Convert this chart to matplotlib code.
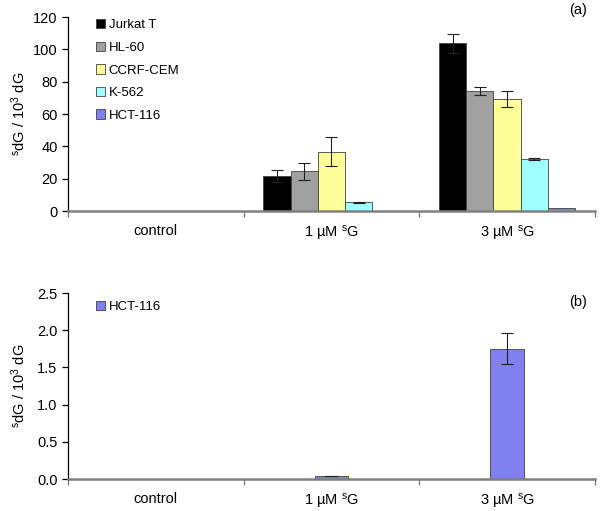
import matplotlib
matplotlib.use('Agg')
import matplotlib.pyplot as plt
import numpy as np
from matplotlib.patches import Patch
from matplotlib.ticker import FormatStrFormatter

plt.rcParams['font.family'] = ['Liberation Sans', 'DejaVu Sans']
plt.rcParams['mathtext.fontset'] = 'custom'
plt.rcParams['mathtext.rm'] = 'Liberation Sans'
plt.rcParams['mathtext.it'] = 'Liberation Sans'

categories = ["control", "1 \u00b5M $^{\\mathrm{s}}$G", "3 \u00b5M $^{\\mathrm{s}}$G"]
cell_lines = ["Jurkat T", "HL-60", "CCRF-CEM", "K-562", "HCT-116"]
colors = ["#000000", "#a0a0a0", "#ffff99", "#a0ffff", "#8080f0"]

# panel (a): values per cell line for control, 1 uM, 3 uM
values_a = [
    [0, 21.7, 103.7],
    [0, 24.6, 74.0],
    [0, 36.6, 69.2],
    [0, 5.4, 32.2],
    [0, 0.04, 1.75],
]
errors_a = [
    [0, 3.7, 5.8],
    [0, 5.4, 2.5],
    [0, 9.0, 4.8],
    [0, 0.4, 0.6],
    [0, 0.0, 0.0],
]

# panel (b): HCT-116 only
values_b = [0, 0.04, 1.75]
errors_b = [0, 0.005, 0.21]

ylabel = "$^{\\mathrm{s}}$dG / 10$^{\\mathrm{3}}$ dG"

fig = plt.figure(figsize=(6, 5.11), dpi=100)
ax1 = fig.add_axes([0.1133, 0.587, 0.878, 0.3796])
ax2 = fig.add_axes([0.1133, 0.0626, 0.878, 0.364])

x = np.arange(len(categories))
n = len(cell_lines)
width = 0.155


def style_axes(ax):
    ax.set_xlim(-0.5, 2.5)
    ax.spines['top'].set_visible(False)
    ax.spines['right'].set_visible(False)
    ax.spines['left'].set_color('black')
    ax.spines['left'].set_linewidth(0.9)
    ax.spines['bottom'].set_color('#808080')
    ax.spines['bottom'].set_linewidth(1.8)
    ax.set_xticks(x)
    ax.set_xticklabels(categories, fontsize=10.5)
    ax.tick_params(axis='x', which='major', length=0, pad=9)
    ax.set_xticks([-0.5, 0.5, 1.5, 2.5], minor=True)
    ax.tick_params(axis='x', which='minor', length=4, color='#808080', width=1)
    ax.tick_params(axis='y', length=4, width=0.9, labelsize=10.5, direction='out')
    ax.set_ylabel(ylabel, fontsize=10.5)


for i in range(n):
    offs = (i - (n - 1) / 2) * width
    ax1.bar(x + offs, values_a[i], width, color=colors[i], edgecolor='#404040',
            linewidth=0.6, label=cell_lines[i], zorder=2)
    errs = np.array(errors_a[i])
    mask = errs > 0
    ax1.errorbar((x + offs)[mask], np.array(values_a[i])[mask], yerr=errs[mask],
                 fmt='none', ecolor='#202020', elinewidth=0.8, capsize=4,
                 capthick=0.8, zorder=3)

style_axes(ax1)
ax1.set_ylim(0, 120)
ax1.set_yticks(np.arange(0, 121, 20))
ax1.yaxis.set_label_coords(-0.075, 0.5)
handles = [Patch(facecolor=c, edgecolor='#404040', linewidth=0.6) for c in colors]
ax1.legend(handles, cell_lines, loc='upper left', bbox_to_anchor=(0.03, 1.05),
           frameon=False, fontsize=9.5, handlelength=0.7, handleheight=0.7,
           handletextpad=0.3, labelspacing=0.78)
ax1.text(0.985, 1.0, "(a)", transform=ax1.transAxes, ha='right', va='bottom',
         fontsize=10.5)

ax2.bar(x, values_b, 0.19, color=colors[4], edgecolor='#404040', linewidth=0.6,
        zorder=2)
ax2.errorbar(x[1:], values_b[1:], yerr=errors_b[1:], fmt='none', ecolor='#202020',
             elinewidth=0.8, capsize=4, capthick=0.8, zorder=3)
style_axes(ax2)
ax2.set_ylim(0, 2.5)
ax2.set_yticks(np.arange(0, 2.51, 0.5))
ax2.yaxis.set_major_formatter(FormatStrFormatter('%.1f'))
ax2.yaxis.set_label_coords(-0.075, 0.5)
ax2.legend([handles[4]], [cell_lines[4]], loc='upper left',
           bbox_to_anchor=(0.03, 1.02), frameon=False, fontsize=9.5,
           handlelength=0.7, handleheight=0.7, handletextpad=0.3)
ax2.text(0.985, 0.99, "(b)", transform=ax2.transAxes, ha='right', va='top',
         fontsize=10.5)

fig.savefig("out.png", dpi=100)
